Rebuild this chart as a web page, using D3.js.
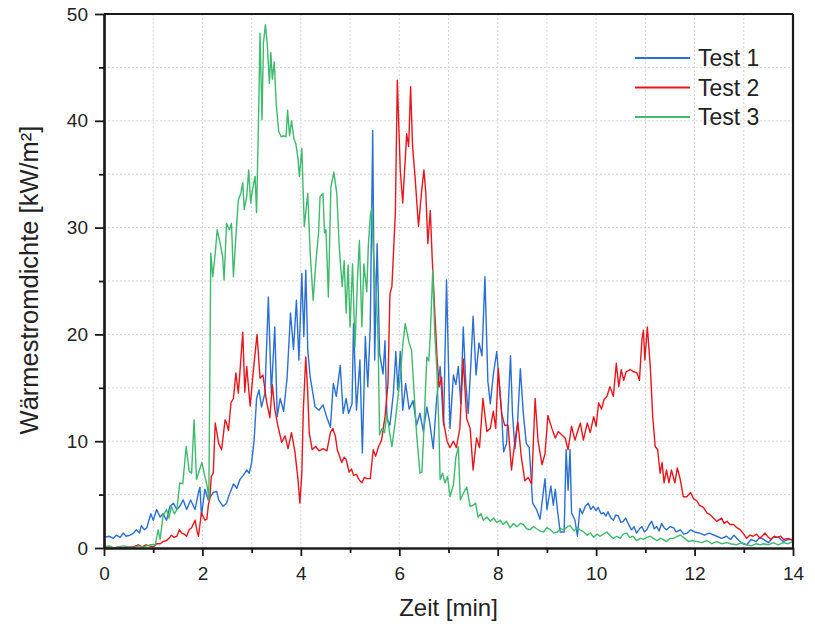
<!DOCTYPE html>
<html>
<head>
<meta charset="utf-8">
<script src="https://cdn.jsdelivr.net/npm/d3@7"></script>
<style>
  body { margin: 0; background: #fff; }
  .axis text { font-family: "Liberation Sans", Arial, sans-serif; font-size: 19px; fill: #222; }
  .axis line { stroke: #1a1a1a; stroke-width: 1.8; }
  .axis path { stroke: #1a1a1a; stroke-width: 2.2; }
  .grid line { stroke: #d6d6d6; stroke-dasharray: 2,2; stroke-width: 1; }
  .line { fill: none; stroke-width: 1.4; stroke-linejoin: round; }
  .label { font-family: "Liberation Sans", Arial, sans-serif; font-size: 24px; fill: #222; }
  .legend text { font-family: "Liberation Sans", Arial, sans-serif; font-size: 23px; fill: #222; }
</style>
</head>
<body>
<div id="chart"></div>
<script>
// Test 1 (blau)
var t1 = [0,0.1,0.19,0.25,0.33,0.39,0.45,0.53,0.6,0.66,0.72,0.76,0.82,0.87,0.95,1.0,1.07,1.14,1.2,1.27,
  1.34,1.41,1.48,1.54,1.61,1.68,1.76,1.85,1.92,1.95,1.98,2.05,2.12,2.22,2.29,2.33,2.42,2.49,2.53,2.63,
  2.7,2.76,2.83,2.9,2.95,3.0,3.05,3.1,3.15,3.2,3.27,3.34,3.4,3.47,3.52,3.58,3.65,3.72,3.79,3.85,
  3.91,3.96,4.02,4.06,4.1,4.14,4.19,4.24,4.29,4.37,4.45,4.53,4.6,4.66,4.72,4.8,4.86,4.92,4.97,5.04,
  5.07,5.13,5.2,5.25,5.31,5.36,5.41,5.46,5.5,5.55,5.6,5.67,5.71,5.75,5.81,5.88,5.93,5.97,6.02,6.07,
  6.13,6.2,6.28,6.35,6.42,6.49,6.56,6.62,6.69,6.76,6.83,6.9,6.96,7.03,7.1,7.15,7.2,7.25,7.3,7.35,
  7.4,7.45,7.5,7.56,7.62,7.68,7.74,7.8,7.85,7.91,7.98,8.02,8.08,8.12,8.18,8.26,8.3,8.35,8.4,8.46,
  8.52,8.58,8.64,8.71,8.79,8.86,8.96,9.0,9.08,9.13,9.17,9.22,9.27,9.35,9.39,9.43,9.47,9.5,9.57,9.62,
  9.67,9.72,9.78,9.84,9.89,9.94,10.0,10.04,10.1,10.15,10.2,10.24,10.3,10.35,10.4,10.45,10.5,10.55,10.6,10.65,
  10.72,10.77,10.82,10.88,10.93,10.98,11.03,11.08,11.13,11.18,11.23,11.28,11.33,11.38,11.43,11.5,11.57,11.63,11.71,11.78,
  11.85,11.92,12.0,12.1,12.2,12.3,12.45,12.55,12.65,12.73,12.8,12.9,12.98,13.06,13.15,13.25,13.33,13.4,13.5,13.6,
  13.7,13.8,13.9,14.0];
var test1 = [1.0,1.1,0.9,1.2,1.0,1.4,1.1,1.2,1.4,1.7,1.4,2.1,1.7,1.9,3.2,2.6,3.6,2.9,3.2,2.6,
  3.9,4.2,3.6,3.9,4.5,3.6,4.5,3.6,5.2,5.7,3.0,5.5,4.5,5.2,5.3,4.5,3.9,4.2,4.8,6.0,
  5.6,6.4,6.8,7.3,7.0,8.0,10.1,14.0,14.8,13.2,14.5,23.5,14.5,20.7,12.3,14.0,12.8,15.9,22.0,18.6,
  23.2,17.6,25.7,19.8,26.0,18.6,16.0,14.6,13.2,12.9,13.4,12.2,11.3,15.4,14.2,17.1,12.6,14.0,12.6,13.5,
  21.0,12.9,17.6,8.9,19.8,15.1,20.7,39.1,17.6,28.5,18.2,16.3,19.4,12.1,11.5,14.5,18.4,14.8,18.4,12.9,
  15.4,13.0,13.8,11.5,12.6,10.9,13.2,11.7,9.3,14.0,17.0,11.5,25.1,11.2,16.2,15.3,17.0,13.5,20.7,15.6,
  12.6,16.8,21.7,16.2,19.2,18.0,25.4,15.6,13.5,16.2,18.4,16.0,12.6,9.0,9.8,18.0,12.6,9.3,11.5,16.8,
  12.6,9.8,9.4,4.2,3.6,2.7,6.5,3.6,5.8,4.0,5.5,3.3,1.5,1.5,9.2,5.4,9.2,3.3,2.6,1.1,
  3.7,3.2,3.9,4.2,3.6,3.9,3.5,3.8,3.2,3.3,3.0,3.4,2.8,2.6,3.1,3.0,2.4,2.5,2.8,2.3,
  1.7,2.0,1.4,1.8,2.0,1.5,1.7,2.2,2.5,1.8,2.0,1.6,2.3,1.9,1.7,2.0,1.9,1.5,1.7,1.3,
  1.4,1.7,1.5,1.4,1.2,1.4,1.1,0.9,1.1,0.8,1.2,0.7,0.4,0.3,0.8,0.6,1.0,0.8,0.5,1.0,
  1.0,0.6,0.8,0.8];

// Test 2 (rot)
var t2 = [0,0.1,0.2,0.3,0.4,0.5,0.6,0.7,0.77,0.85,0.92,1.0,1.07,1.14,1.2,1.27,1.32,1.37,1.42,1.48,
  1.53,1.58,1.63,1.68,1.73,1.78,1.85,1.9,1.92,1.98,2.05,2.09,2.12,2.15,2.18,2.22,2.26,2.33,2.39,2.46,
  2.49,2.53,2.58,2.63,2.68,2.73,2.77,2.82,2.86,2.9,2.97,3.03,3.11,3.17,3.23,3.3,3.37,3.42,3.47,3.53,
  3.61,3.68,3.74,3.81,3.88,3.94,3.98,4.02,4.05,4.1,4.14,4.17,4.23,4.3,4.37,4.45,4.53,4.6,4.65,4.7,
  4.74,4.83,4.88,4.92,4.98,5.03,5.07,5.13,5.18,5.24,5.29,5.34,5.41,5.47,5.52,5.58,5.64,5.71,5.77,5.81,
  5.85,5.92,5.96,6.02,6.07,6.12,6.15,6.19,6.23,6.27,6.32,6.39,6.45,6.5,6.54,6.58,6.63,6.67,6.73,6.77,
  6.81,6.86,6.9,6.97,7.03,7.1,7.16,7.23,7.3,7.37,7.44,7.5,7.57,7.63,7.7,7.78,7.85,7.91,7.96,8.01,
  8.08,8.14,8.21,8.28,8.35,8.41,8.48,8.55,8.62,8.69,8.76,8.82,8.9,8.96,9.02,9.1,9.17,9.23,9.3,9.37,
  9.43,9.5,9.57,9.63,9.68,9.74,9.82,9.88,9.95,10.0,10.05,10.11,10.16,10.22,10.28,10.35,10.41,10.46,10.51,10.56,
  10.61,10.69,10.77,10.83,10.88,10.93,10.96,10.99,11.04,11.1,11.15,11.2,11.25,11.3,11.34,11.38,11.43,11.48,11.53,11.6,
  11.65,11.71,11.77,11.84,11.92,11.98,12.05,12.1,12.18,12.25,12.32,12.38,12.45,12.55,12.6,12.66,12.72,12.79,12.86,12.93,
  13.0,13.06,13.12,13.19,13.26,13.33,13.43,13.5,13.55,13.62,13.68,13.75,13.81,13.9,14.0];
var test2 = [0.0,0.1,0.0,0.1,0.0,0.1,0.1,0.3,0.1,0.3,0.2,0.1,0.4,0.4,0.6,0.7,0.9,1.2,1.0,1.1,
  1.7,1.4,1.3,1.1,1.7,1.9,2.6,1.4,1.1,3.3,2.6,2.7,4.0,4.6,6.7,7.0,11.7,9.8,9.2,12.0,
  11.7,11.0,13.6,14.0,16.4,14.5,17.0,20.2,14.6,17.0,13.3,16.4,20.0,15.9,16.2,13.8,12.2,15.3,13.0,11.5,
  9.9,10.5,9.3,10.8,9.0,6.5,4.2,7.0,12.9,17.9,14.5,10.8,9.2,9.5,9.1,9.3,9.1,10.8,11.2,10.5,
  9.2,8.0,8.5,8.3,7.1,7.4,6.8,6.9,6.4,6.1,6.6,6.5,6.5,9.2,8.6,9.5,10.1,12.3,15.4,23.8,
  24.5,31.4,43.8,35.4,32.3,36.3,38.8,37.6,43.2,37.6,34.8,30.1,33.2,35.4,33.2,28.5,31.6,27.0,21.3,17.6,
  15.1,16.0,11.8,10.0,9.4,10.0,9.4,11.2,17.7,12.1,11.2,7.3,10.3,9.4,14.0,10.9,11.2,12.8,11.2,16.8,
  12.6,11.5,11.5,7.3,10.0,11.8,8.5,6.3,6.6,6.0,14.0,10.0,7.8,8.8,12.4,11.2,10.3,10.9,10.6,10.3,
  9.2,11.4,10.1,11.0,11.7,10.1,11.7,10.8,12.3,11.4,13.6,13.0,13.9,14.2,15.1,14.2,17.3,15.1,16.7,15.7,
  16.5,16.7,16.5,16.4,15.7,19.5,20.4,17.6,20.7,17.0,12.3,9.5,9.2,7.0,8.0,6.1,7.3,6.1,7.3,6.1,
  7.5,6.4,4.8,4.8,5.2,4.6,4.4,4.0,3.8,3.3,3.1,2.8,2.5,2.8,2.3,2.5,2.2,2.2,1.9,1.7,
  1.3,0.9,1.2,1.1,1.3,0.9,1.4,1.0,0.8,1.1,1.0,1.1,0.8,0.9,0.7];

// Test 3 (gruen)
var t3 = [0,0.1,0.2,0.3,0.4,0.5,0.6,0.7,0.8,0.87,0.95,1.04,1.1,1.14,1.2,1.27,1.32,1.37,1.43,1.48,
  1.54,1.6,1.67,1.73,1.78,1.83,1.88,1.94,1.99,2.05,2.1,2.13,2.17,2.21,2.26,2.3,2.36,2.41,2.44,2.49,
  2.55,2.59,2.63,2.68,2.73,2.78,2.82,2.85,2.9,2.94,2.98,3.02,3.07,3.1,3.14,3.17,3.21,3.24,3.28,3.32,
  3.36,3.39,3.42,3.46,3.5,3.55,3.6,3.65,3.7,3.73,3.77,3.81,3.86,3.9,3.94,3.97,4.02,4.07,4.14,4.19,
  4.25,4.31,4.36,4.39,4.45,4.48,4.51,4.56,4.61,4.67,4.73,4.78,4.84,4.88,4.92,4.96,5.0,5.05,5.1,5.15,
  5.19,5.24,5.28,5.34,5.37,5.41,5.44,5.47,5.53,5.57,5.6,5.65,5.7,5.75,5.8,5.85,5.92,5.97,6.02,6.07,
  6.12,6.2,6.25,6.29,6.35,6.42,6.46,6.49,6.56,6.6,6.63,6.68,6.72,6.76,6.8,6.83,6.88,6.93,6.98,7.03,
  7.1,7.15,7.2,7.24,7.3,7.37,7.44,7.5,7.55,7.6,7.66,7.71,7.78,7.85,7.92,7.98,8.05,8.11,8.18,8.25,
  8.32,8.39,8.46,8.52,8.59,8.66,8.72,8.79,8.86,8.93,9.0,9.07,9.14,9.21,9.28,9.35,9.42,9.47,9.55,9.62,
  9.67,9.75,9.82,9.88,9.95,10.02,10.08,10.15,10.22,10.28,10.35,10.42,10.49,10.55,10.62,10.68,10.75,10.82,10.9,10.96,
  11.03,11.1,11.16,11.24,11.3,11.36,11.43,11.5,11.57,11.65,11.72,11.8,11.88,11.95,12.05,12.15,12.25,12.35,12.45,12.55,
  12.65,12.73,12.85,12.95,13.06,13.15,13.25,13.33,13.4,13.5,13.6,13.7,13.8,13.9,14.0];
var test3 = [0.1,0.2,0.0,0.1,0.2,0.1,0.0,0.2,0.1,0.2,0.3,0.3,1.7,0.8,3.0,3.6,2.8,3.9,3.2,3.6,
  6.1,6.0,9.5,7.2,7.0,12.0,6.4,7.3,8.0,6.7,5.7,4.5,27.6,25.4,27.6,29.8,28.5,27.3,25.1,30.4,
  29.8,30.4,25.4,29.2,32.6,33.2,34.2,31.7,32.9,35.4,32.3,33.6,34.8,31.4,40.1,48.2,40.1,47.3,49.0,47.0,
  43.5,46.4,43.9,45.5,41.5,39.0,38.5,38.6,38.5,41.0,38.6,40.0,38.3,37.8,36.5,34.8,37.4,30.1,33.2,27.6,
  23.2,27.0,29.5,32.9,33.2,29.5,29.8,23.5,33.8,35.2,33.2,28.2,24.5,26.9,22.0,26.5,20.7,26.6,18.8,25.1,
  28.8,20.7,26.6,24.0,28.2,31.1,31.8,27.9,24.0,19.3,10.6,11.2,10.8,12.6,10.9,9.5,11.9,14.0,16.0,19.0,
  21.0,19.2,18.5,15.4,10.8,7.0,7.1,10.1,17.9,17.5,20.0,26.0,20.1,17.0,12.0,6.4,7.0,6.1,6.7,4.8,
  5.9,8.5,9.5,4.5,5.1,5.7,3.9,4.0,4.2,2.9,3.2,2.6,2.9,2.5,2.8,2.4,2.6,2.2,2.5,1.9,
  2.3,2.0,2.3,2.2,1.8,1.7,2.0,1.8,1.6,1.5,1.9,1.7,1.4,1.5,1.8,1.7,2.0,2.1,1.6,1.9,
  1.7,1.5,1.2,1.4,1.0,1.3,1.1,1.3,1.5,1.2,0.9,1.1,0.9,1.3,1.4,1.0,1.1,0.7,0.9,0.8,
  1.0,1.1,0.9,0.7,0.9,0.8,0.6,0.9,0.9,1.1,1.2,0.9,0.6,0.7,0.6,0.5,0.7,0.4,0.6,0.4,
  0.5,0.4,0.3,0.5,0.3,0.2,0.4,0.3,0.4,0.3,0.5,0.3,0.5,0.4,0.6];

var seriesNames = ["Test 1", "Test 2", "Test 3"];
var seriesColors = ["#2a6fd4", "#e8161c", "#3dba6c"];
var xMajor = [0, 2, 4, 6, 8, 10, 12, 14];
var xMinor = [1, 3, 5, 7, 9, 11, 13];
var yMajor = [0, 10, 20, 30, 40, 50];
var yMinor = [5, 15, 25, 35, 45];

var margin = {top: 14, right: 22, bottom: 76, left: 104},
    width = 815 - margin.left - margin.right,
    height = 624 - margin.top - margin.bottom;

var xScale = d3.scaleLinear().domain([0, 14]).range([0, width]);
var yScale = d3.scaleLinear().domain([0, 50]).range([height, 0]);

var svg = d3.select("#chart").append("svg")
    .attr("width", width + margin.left + margin.right)
    .attr("height", height + margin.top + margin.bottom)
  .append("g")
    .attr("transform", "translate(" + margin.left + "," + margin.top + ")");

// grid
var grid = svg.append("g").attr("class", "grid");
grid.selectAll(".gx").data(xMajor.concat(xMinor).filter(function(d) { return d > 0 && d < 14; }))
  .enter().append("line")
    .attr("x1", function(d) { return xScale(d); }).attr("x2", function(d) { return xScale(d); })
    .attr("y1", 0).attr("y2", height);
grid.selectAll(".gy").data(yMajor.concat(yMinor).filter(function(d) { return d > 0 && d < 50; }))
  .enter().append("line")
    .attr("y1", function(d) { return yScale(d); }).attr("y2", function(d) { return yScale(d); })
    .attr("x1", 0).attr("x2", width);

// lines
var data = [[t1, test1], [t2, test2], [t3, test3]];
var line = d3.line()
  .x(function(d) { return xScale(d[0]); })
  .y(function(d) { return yScale(d[1]); });

for (var s = 0; s < data.length; s++) {
  var pts = d3.zip(data[s][0], data[s][1]);
  svg.append("path")
    .datum(pts)
    .attr("class", "line")
    .style("stroke", seriesColors[s])
    .attr("d", line);
}

// axes
svg.append("g")
  .attr("class", "x axis")
  .attr("transform", "translate(0," + height + ")")
  .call(d3.axisBottom(xScale).tickValues(xMajor).tickSize(8).tickPadding(11).tickSizeOuter(0));
svg.append("g")
  .attr("class", "x axis minor")
  .attr("transform", "translate(0," + height + ")")
  .call(d3.axisBottom(xScale).tickValues(xMinor).tickSize(5).tickFormat("").tickSizeOuter(0));

svg.append("g")
  .attr("class", "y axis")
  .call(d3.axisLeft(yScale).tickValues(yMajor).tickSize(9).tickPadding(7).tickSizeOuter(0));
svg.append("g")
  .attr("class", "y axis minor")
  .call(d3.axisLeft(yScale).tickValues(yMinor).tickSize(5).tickFormat("").tickSizeOuter(0));

// frame top/right
svg.append("line").attr("x1", 0).attr("x2", width).attr("y1", 0).attr("y2", 0)
  .style("stroke", "#1a1a1a").style("stroke-width", 2.2);
svg.append("line").attr("x1", width).attr("x2", width).attr("y1", 0).attr("y2", height)
  .style("stroke", "#1a1a1a").style("stroke-width", 2.2);

// axis titles
svg.append("text")
  .attr("class", "label")
  .attr("x", width / 2)
  .attr("y", height + 68)
  .attr("text-anchor", "middle")
  .text("Zeit [min]");

svg.append("text")
  .attr("class", "label")
  .attr("transform", "rotate(-90)")
  .attr("x", -height / 2 + 1)
  .attr("y", -66)
  .attr("text-anchor", "middle")
  .style("font-size", "25.5px")
  .text("Wärmestromdichte [kW/m²]");

// legend
var legend = svg.append("g").attr("class", "legend");
seriesNames.forEach(function(name, i) {
  var y = 44 + i * 29.5;
  legend.append("line")
    .attr("x1", 531).attr("x2", 586)
    .attr("y1", y).attr("y2", y)
    .style("stroke", seriesColors[i])
    .style("stroke-width", 2);
  legend.append("text")
    .attr("x", 594)
    .attr("y", y)
    .attr("dy", "0.36em")
    .text(name);
});
</script>
</body>
</html>
